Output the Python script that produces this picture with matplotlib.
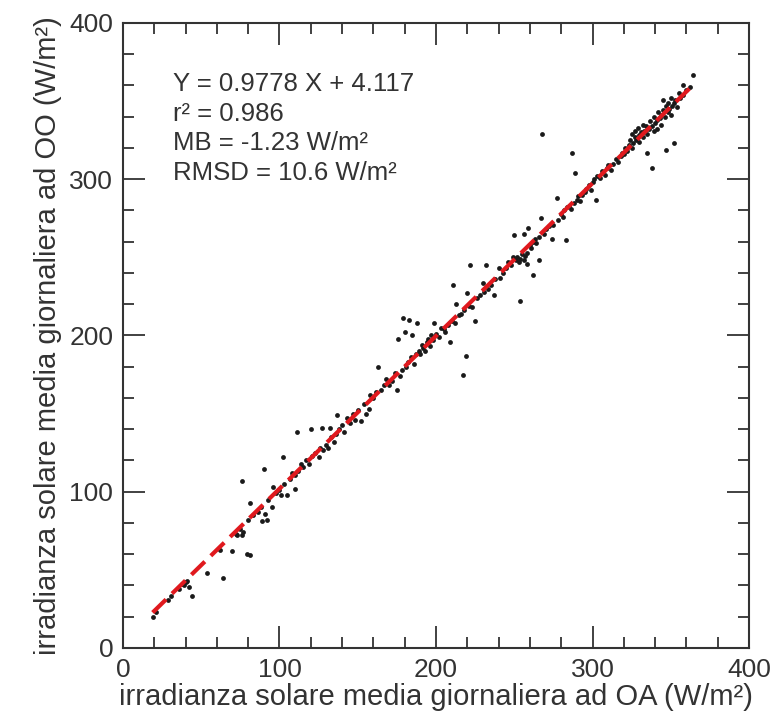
import matplotlib
matplotlib.use("Agg")
import matplotlib.pyplot as plt
from matplotlib.ticker import MultipleLocator
import numpy as np

# daily mean solar irradiance, OA (x) vs OO (y), W/m2
oa = [
    19, 21, 29, 31, 36, 38, 39, 40, 41, 44, 42,
    54, 64, 62, 70, 72, 73, 75, 76, 77, 79, 80, 76, 81, 81,
    83, 86, 88, 89, 90, 91, 92, 93, 95, 96, 98, 100, 101, 102, 103, 105, 107, 108, 110, 110,
    111, 112, 114, 115, 117, 119, 120, 121, 123, 125, 126, 127, 128, 130, 131, 132, 133,
    135, 136, 137, 138, 140, 141, 143, 145, 147, 148, 150,
    152, 154, 155, 157, 158, 160, 162, 163, 165, 167, 168, 170, 172, 174, 175, 176, 177,
    178, 179, 180, 181, 182, 183, 184, 185, 186, 187, 188, 189, 190, 191, 192, 193, 194,
    195, 196, 197, 198, 199, 200, 202, 203, 205, 206, 208, 209, 210, 211, 212, 213, 215,
    216, 217, 218, 219, 220, 221, 222, 223, 225, 226, 228, 230, 231, 232, 233, 235, 237,
    238, 240, 241, 243, 245, 246, 248, 249,
    250, 251, 252, 253, 254, 254, 255, 256, 256, 257, 258, 258, 259, 260, 261, 262, 262,
    263, 264, 266, 266, 267, 268, 269, 270, 272, 274, 275,
    277, 278, 280, 281, 282, 283, 284, 285, 286, 287, 288, 289, 290, 291, 292, 293, 295,
    296, 298, 299, 300, 301, 302, 303, 305, 306, 308, 309, 310, 312, 313, 315, 316, 318, 319,
    320, 321, 322, 323, 324, 325, 325, 326, 327, 327, 328, 329, 330, 330, 331, 332, 332,
    333, 334, 335, 335, 336, 337, 338, 338, 339, 339, 340, 341, 341, 342, 343, 344, 344,
    345, 345, 346, 347, 347, 348, 348, 349, 350, 350, 351, 352, 352, 353, 354, 355, 356,
    358, 358, 360, 362, 364,
]
oo = [
    20, 23, 31, 33, 38, 41, 40, 42, 43, 33, 39,
    48, 45, 63, 62, 73, 72, 76, 72, 74, 60, 82, 107, 93, 59.5,
    85, 87, 90, 81, 114.5, 86, 82, 95, 90, 103, 99, 101, 98, 122, 105, 98, 108, 112, 102, 111,
    138, 113, 118, 116, 120, 118, 140, 123, 125, 122, 128, 141, 127, 130, 128, 141, 135,
    132, 137, 149, 140, 143, 138, 147, 144, 150, 146, 152,
    145, 156, 150, 153, 162, 160, 164, 180, 165, 168, 172, 168, 171, 176, 165, 198, 174,
    178, 211, 202, 180, 183, 210, 186, 200, 182, 188, 208, 190, 188, 194, 192, 190, 196,
    198, 193, 200, 197, 208, 201, 199, 205, 204, 202, 207, 196, 209, 232, 208, 220, 213,
    214, 175, 216, 187, 227, 219, 245, 218, 209, 224, 226, 233.5, 228, 245, 230, 232, 226,
    236, 243, 237, 240, 243, 247, 245, 250,
    264, 248, 250, 247, 249, 222, 252, 265, 248, 251, 246, 253, 269, 258, 256, 239, 260,
    262, 259, 248, 263, 275, 329, 265, 268, 270, 262, 271,
    288, 274, 278, 276, 280, 261, 282, 283, 281, 317, 285, 304, 287, 289, 286, 290, 292,
    294, 296, 293, 298, 300, 287, 302, 301, 305, 303, 307, 309, 306, 310, 313, 311, 315, 317,
    316, 320, 318, 322, 325, 320, 329, 323, 327, 331, 325, 333, 328, 324, 330, 335, 327,
    331, 334, 317, 329, 332, 337, 334, 307, 340, 331, 336, 338, 332, 343, 339, 341, 335,
    351, 344, 340, 319, 347, 343, 349, 345, 352, 341, 347, 323, 349, 351, 346, 355, 352,
    360, 354, 357, 359, 367,
]

slope, intercept = 0.9778, 4.117
stats_lines = [
    "Y = 0.9778 X + 4.117",
    "r\u00b2 = 0.986",
    "MB = -1.23 W/m\u00b2",
    "RMSD = 10.6 W/m\u00b2",
]

plt.rcParams["font.family"] = ["Liberation Sans", "DejaVu Sans"]
ink = "#333333"

fig = plt.figure(figsize=(7.73, 7.18), dpi=100)
ax = fig.add_axes([0.159, 0.0975, 0.81, 0.8705])

ax.scatter(oa, oo, s=12, color="#1a1a1a", linewidths=0, zorder=2)
xl = np.array([min(oa), max(oa)])
ax.plot(xl, slope * xl + intercept, color="#e0191e", lw=3, ls=(0, (4.5, 2)), zorder=3)

ax.set_xlim(0, 400)
ax.set_ylim(0, 400)
ax.xaxis.set_major_locator(MultipleLocator(100))
ax.yaxis.set_major_locator(MultipleLocator(100))
ax.xaxis.set_minor_locator(MultipleLocator(20))
ax.yaxis.set_minor_locator(MultipleLocator(20))
ax.tick_params(which="both", direction="in", top=True, right=True,
               color=ink, labelcolor=ink, labelsize=19)
ax.tick_params(which="major", length=16, width=1.3, pad=7)
ax.tick_params(which="minor", length=8, width=1.3)
for sp in ax.spines.values():
    sp.set_linewidth(1.5)
    sp.set_color(ink)

ax.set_xlabel("irradianza solare media giornaliera ad OA (W/m\u00b2)",
              fontsize=21, color=ink, labelpad=1)
ax.set_ylabel("irradianza solare media giornaliera ad OO (W/m\u00b2)",
              fontsize=21, color=ink, labelpad=5)

for i, line in enumerate(stats_lines):
    ax.text(32, 361 - i * 19, line, fontsize=18.5, color=ink, va="center", ha="left")

fig.savefig("out.png", dpi=100)
